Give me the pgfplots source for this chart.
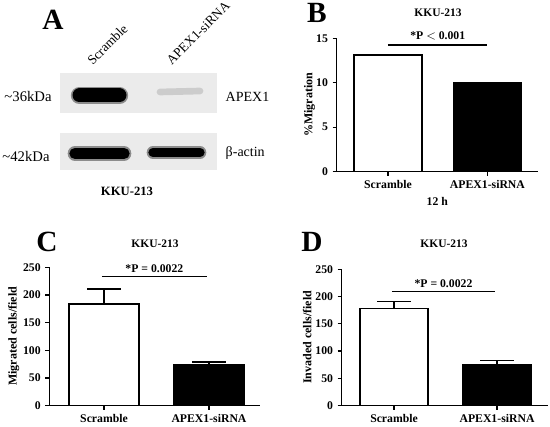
\documentclass[border=0pt]{standalone}
\usepackage{fontspec}
\setmainfont{Liberation Serif}
\usepackage{pgfplots}
\pgfplotsset{compat=1.18}
\pgfplotsset{gp/.style={
  scale only axis, axis lines*=left, ymin=0, xtick={0,1},
  xticklabels={Scramble,APEX1-siRNA},
  tick align=outside, major tick length=3pt,
  axis line style={line width=0.9pt},
  every tick/.style={black, line width=0.9pt},
  tick label style={font=\bfseries\fontsize{8.8}{10}\selectfont},
  /pgf/number format/assume math mode=true,
  ylabel style={font=\bfseries\fontsize{9}{11}\selectfont},
  xlabel style={font=\bfseries\fontsize{8.8}{10}\selectfont},
  clip=false,
}}
\begin{document}
\begin{tikzpicture}
\path[use as bounding box] (0,0) rectangle (412.5pt,320.25pt);
% Panel A and all free texts, in pixel coordinates
\begin{axis}[at={(0pt,0pt)}, anchor=south west, scale only axis,
  width=412.5pt, height=320.25pt, xmin=0, xmax=550, ymin=0, ymax=427,
  y dir=reverse, axis lines=none, clip=false]
\addplot[fill=black!8, draw=none] coordinates {(60,73) (217,73) (217,113) (60,113)} -- cycle;
\addplot[fill=black!8, draw=none] coordinates {(60,133) (217,133) (217,170) (60,170)} -- cycle;
% bands
\addplot[black!45, line width=13pt, line cap=round] coordinates {(79.5,95.5) (119.5,95.5)};
\addplot[black, line width=10.5pt, line cap=round] coordinates {(79.5,95.5) (119.5,95.5)};
\addplot[black!20, line width=5pt, line cap=round] coordinates {(160,92) (200,91)};
\addplot[black!45, line width=11pt, line cap=round] coordinates {(75,153.5) (124,153.5)};
\addplot[black, line width=8.5pt, line cap=round] coordinates {(75,153.5) (124,153.5)};
\addplot[black!45, line width=9.5pt, line cap=round] coordinates {(153,152.5) (200,152.5)};
\addplot[black, line width=7pt, line cap=round] coordinates {(153,152.5) (200,152.5)};
% texts panel A
\node[font=\bfseries\fontsize{22}{24}\selectfont] at (axis cs:53,20) {A};
\node[font=\fontsize{10}{10}\selectfont, rotate=45, anchor=south west, inner sep=0pt] at (axis cs:93,66) {Scramble};
\node[font=\fontsize{10}{10}\selectfont, rotate=45, anchor=south west, inner sep=0pt] at (axis cs:172,66) {APEX1-siRNA};
\node[font=\fontsize{11}{12}\selectfont] at (axis cs:28,96) {\textasciitilde36kDa};
\node[font=\fontsize{11}{12}\selectfont] at (axis cs:26,156) {\textasciitilde42kDa};
\node[font=\fontsize{10.5}{12}\selectfont, anchor=west] at (axis cs:221,97) {APEX1};
\node[font=\fontsize{10.5}{12}\selectfont, anchor=west] at (axis cs:221,153) {β-actin};
\node[font=\bfseries\fontsize{9.5}{11}\selectfont] at (axis cs:127,191) {KKU-213};
% panel letters and titles
\node[font=\bfseries\fontsize{22}{24}\selectfont] at (axis cs:317,13) {B};
\node[font=\bfseries\fontsize{22}{24}\selectfont] at (axis cs:47,242) {C};
\node[font=\bfseries\fontsize{22}{24}\selectfont] at (axis cs:312,242) {D};
\node[font=\bfseries\fontsize{8.6}{10}\selectfont] at (axis cs:438,13) {KKU-213};
\node[font=\bfseries\fontsize{8.6}{10}\selectfont] at (axis cs:155,244) {KKU-213};
\node[font=\bfseries\fontsize{8.6}{10}\selectfont] at (axis cs:444,244) {KKU-213};
\end{axis}
% Panel B
\begin{axis}[gp, at={(252.5pt,191.5pt)}, anchor=south west,
  width=151pt, height=100pt, xmin=-0.516, xmax=1.508, ymax=15,
  ytick={0,5,10,15}, ylabel={\%Migration}, ylabel shift=-6pt, xlabel={12 h}]
\addplot[ybar, bar shift=0pt, bar width=0.68, fill=white, draw=black, line width=1.1pt] coordinates {(0,13.1)};
\addplot[ybar, bar shift=0pt, bar width=0.68, fill=black, draw=black, line width=1.1pt] coordinates {(1,10.05)};
\draw[line width=0.8pt] (axis cs:0,14.25) -- (axis cs:1,14.25);
\node[font=\bfseries\fontsize{8.8}{10}\selectfont] at (axis cs:0.5,15.3) {*P $<$ 0.001};
\end{axis}
% Panel C
\begin{axis}[gp, at={(37pt,16pt)}, anchor=south west,
  width=158pt, height=103.8pt, xmin=-0.521, xmax=1.486, ymax=250,
  ytick={0,50,100,150,200,250}, ylabel={Migrated cells/field}, ylabel shift=-4pt]
\addplot[ybar, bar shift=0pt, bar width=0.667, fill=white, draw=black, line width=1.1pt,
  error bars/.cd, y dir=plus, y explicit, error bar style={line width=1.1pt},
  error mark options={line width=1.1pt, mark size=12.5pt, rotate=90}]
  coordinates {(0,183.7) +- (0,27.1)};
\addplot[ybar, bar shift=0pt, bar width=0.667, fill=black, draw=black, line width=1.1pt,
  error bars/.cd, y dir=plus, y explicit, error bar style={line width=1.1pt},
  error mark options={line width=1.1pt, mark size=12.5pt, rotate=90}]
  coordinates {(1,73.5) +- (0,5.5)};
\draw[line width=0.8pt] (axis cs:-0.02,234) -- (axis cs:0.98,234);
\node[font=\bfseries\fontsize{8.8}{10}\selectfont] at (axis cs:0.48,248) {*P = 0.0022};
\end{axis}
% Panel D
\begin{axis}[gp, at={(256.3pt,16pt)}, anchor=south west,
  width=154.7pt, height=102.3pt, xmin=-0.508, xmax=1.495, ymax=250,
  ytick={0,50,100,150,200,250}, ylabel={Invaded cells/field}, ylabel shift=-4pt]
\addplot[ybar, bar shift=0pt, bar width=0.66, fill=white, draw=black, line width=1.1pt,
  error bars/.cd, y dir=plus, y explicit, error bar style={line width=1.1pt},
  error mark options={line width=1.1pt, mark size=12.5pt, rotate=90}]
  coordinates {(0,177.8) +- (0,12.8)};
\addplot[ybar, bar shift=0pt, bar width=0.66, fill=black, draw=black, line width=1.1pt,
  error bars/.cd, y dir=plus, y explicit, error bar style={line width=1.1pt},
  error mark options={line width=1.1pt, mark size=12.5pt, rotate=90}]
  coordinates {(1,74.6) +- (0,7.9)};
\draw[line width=0.8pt] (axis cs:-0.02,209) -- (axis cs:0.98,209);
\node[font=\bfseries\fontsize{8.8}{10}\selectfont] at (axis cs:0.48,224) {*P = 0.0022};
\end{axis}
\end{tikzpicture}
\end{document}
